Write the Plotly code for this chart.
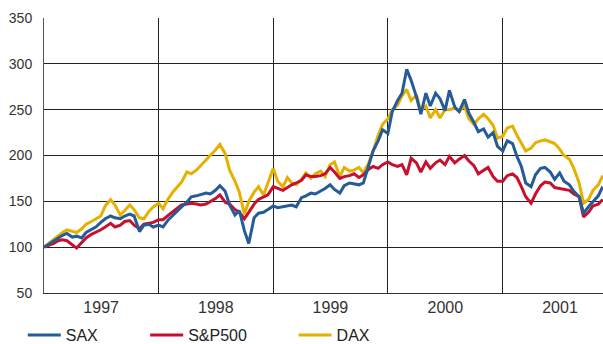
import pandas as pd
import plotly.graph_objects as go

# Semi-monthly index levels, 1 Jan 1997 = 100
dates = pd.date_range("1997-01-01", periods=118, freq="SMS")

sax = [
    100, 103, 107, 110, 113, 115, 111, 112, 110, 116,
    119, 122, 127, 131, 134, 132, 131, 134, 136, 134,
    117, 124, 125, 122, 124, 122, 130, 135, 140, 144,
    149, 155, 156, 157, 159, 158, 162, 167, 161, 146,
    135, 140, 118, 104, 132, 137, 138, 141, 145, 143,
    144, 145, 146, 144, 154, 156, 159, 158, 161, 164,
    168, 163, 159, 167, 170, 169, 168, 170, 190, 205,
    216, 228, 224, 248, 260, 268, 294, 282, 264, 245,
    268, 254, 268, 262, 249, 271, 253, 248, 261, 246,
    236, 226, 229, 220, 225, 210, 205, 216, 213, 199,
    188, 170, 166, 179, 186, 187, 182, 174, 181, 172,
    168, 161, 155, 137, 144, 150, 156, 166,
]

sp500 = [
    100, 102, 104, 107, 108, 107, 103, 99, 105, 110,
    114, 116, 119, 122, 126, 122, 124, 128, 129, 124,
    120, 125, 126, 127, 130, 130, 135, 139, 143, 146,
    147, 148, 147, 146, 147, 150, 153, 157, 149, 147,
    141, 138, 131, 138, 147, 152, 155, 157, 166, 164,
    162, 165, 168, 170, 173, 179, 177, 177, 178, 180,
    187, 182, 175, 177, 178, 180, 176, 179, 185, 188,
    186, 190, 193, 190, 188, 190, 179, 197, 192, 182,
    193, 186, 192, 195, 190, 199, 192, 196, 200, 194,
    189, 180, 184, 187, 177, 172, 172, 178, 180, 176,
    166, 155, 148, 158, 167, 171, 170, 165, 164, 163,
    162, 158, 155, 133, 138, 145, 147, 152,
]

dax = [
    100, 104, 108, 112, 116, 119, 117, 116, 120, 125,
    128, 131, 134, 145, 152, 146, 135, 140, 146, 141,
    132, 131, 139, 144, 148, 142, 153, 160, 165, 171,
    182, 180, 184, 189, 195, 200, 206, 212, 202, 184,
    172, 160, 136, 150, 160, 166, 157, 170, 186, 172,
    166, 176, 170, 168, 174, 181, 175, 180, 183, 177,
    190, 193, 177, 187, 183, 184, 187, 181, 192, 205,
    222, 234, 240, 250, 255, 265, 272, 260, 266, 249,
    254, 241, 250, 241, 250, 250, 252, 248, 254, 240,
    234, 240, 245, 240, 233, 219, 221, 230, 232, 222,
    214, 205, 208, 214, 216, 217, 215, 213, 207, 200,
    196, 186, 170, 148, 152, 162, 168, 178,
]

year_labels = ["1997", "1998", "1999", "2000", "2001"]
year_mid = ["1997-07-02", "1998-07-02", "1999-07-02", "2000-07-02", "2001-07-02"]
y_ticks = [50, 100, 150, 200, 250, 300, 350]

LABEL_FONT = "Liberation Sans Narrow, Arial Narrow, Liberation Sans, Arial, sans-serif"

series = [
    ("DAX", dax, "#e6b000", "legend3"),
    ("S&P500", sp500, "#c8102e", "legend2"),
    ("SAX", sax, "#255b98", "legend"),
]

fig = go.Figure()
for name, vals, color, leg in series:
    fig.add_trace(go.Scatter(
        x=dates, y=vals, name=name, mode="lines",
        line=dict(color=color, width=3),
        legend=leg,
    ))

legend_common = dict(
    orientation="h", yanchor="middle", xanchor="left",
    itemwidth=33,
    font=dict(family=LABEL_FONT, size=16, color="#222"),
    bgcolor="rgba(0,0,0,0)", borderwidth=0,
)

fig.update_layout(
    width=603, height=344,
    margin=dict(l=44, r=0, t=18, b=51, autoexpand=False),
    paper_bgcolor="white", plot_bgcolor="white",
    showlegend=True,
    legend=dict(x=-0.038, y=-0.153, **legend_common),
    legend2=dict(x=0.181, y=-0.153, **legend_common),
    legend3=dict(x=0.4465, y=-0.153, **legend_common),
    xaxis=dict(
        type="date",
        range=["1997-01-01", "2001-11-16"],
        tickmode="array", tickvals=year_mid, ticktext=year_labels,
        ticks="", showgrid=False, zeroline=False,
        showline=True, linecolor="#333", linewidth=1,
        tickfont=dict(family=LABEL_FONT, size=16, color="#333"),
        minor=dict(dtick="M12", tick0="1997-01-01", showgrid=True,
                   gridcolor="#222", gridwidth=1, ticks=""),
    ),
    yaxis=dict(
        range=[50, 350], tickmode="array", tickvals=y_ticks,
        showgrid=True, gridcolor="#222", gridwidth=1,
        zeroline=False, ticks="",
        showline=True, linecolor="#555", linewidth=1,
        ticklabelstandoff=8,
        tickfont=dict(family="Liberation Sans, Arial, sans-serif", size=14, color="#333"),
    ),
)

fig.write_html("out.html")
